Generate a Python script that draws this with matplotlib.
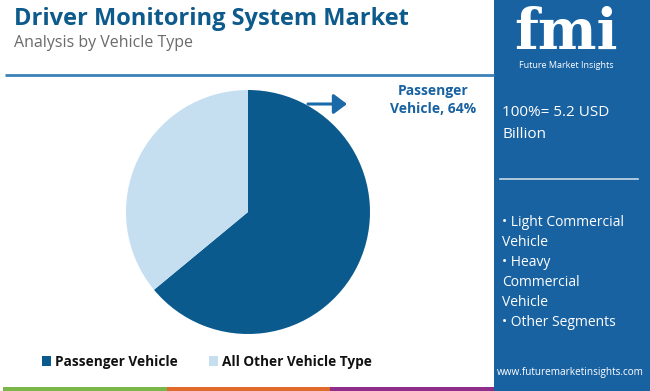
import matplotlib.pyplot as plt
import matplotlib.patches as mpatches

# data
segments = ["Passenger Vehicle", "All Other Vehicle Type"]
shares = [64, 36]
colors = ["#0b5a8e", "#c5dff1"]
title = "Driver Monitoring System Market"
subtitle = "Analysis by Vehicle Type"
other_segments = ["• Light Commercial", "Vehicle", "• Heavy", "Commercial", "Vehicle", "• Other Segments"]
stripe_colors = ["#7ab648", "#e06a2c", "#8e2d8a"]

W, H = 650, 391
fig = plt.figure(figsize=(W / 100, H / 100), dpi=100)
fig.patch.set_facecolor("white")

# pie (drawn first, underneath the overlay)
cx, cy, r = 248, 212, 122
pax = fig.add_axes([(cx - r) / W, (H - cy - r) / H, 2 * r / W, 2 * r / H])
pax.pie(shares, colors=colors, startangle=90, counterclock=False,
        wedgeprops=dict(linewidth=0))
pax.set_xlim(-1, 1)
pax.set_ylim(-1, 1)
pax.set_aspect("equal")

# overlay axes in pixel coordinates
bg = fig.add_axes([0, 0, 1, 1])
bg.set_zorder(2)
bg.patch.set_alpha(0)
bg.set_xlim(0, W)
bg.set_ylim(H, 0)
bg.axis("off")

FONT = "Open Sans"

bg.text(14, 19, title, fontsize=17, fontweight="bold", color="#0d5a8c",
        family=FONT, va="center", ha="left")
bg.text(14, 43, subtitle, fontsize=11.5, color="#6b6b6b", family=FONT,
        va="center", ha="left")
bg.plot([5, 494], [75, 75], color="#3b82b8", lw=2, solid_capstyle="butt")

# bottom stripes
xs = [3, 167, 330, 494]
for i, c in enumerate(stripe_colors):
    bg.add_patch(mpatches.Rectangle((xs[i], 387), xs[i + 1] - xs[i], 4, color=c, lw=0))

# right panel
bg.add_patch(mpatches.Rectangle((494, 0), W - 494, H, color="#1862a2", lw=0))
bg.text(566, 33, "fmi", fontsize=40, fontweight="bold", color="white",
        family="DejaVu Serif", ha="center", va="center")
bg.text(566, 66, "Future Market Insights", fontsize=6.5, color="white",
        family=FONT, ha="center", va="center")
bg.text(502, 112, "100%= 5.2 USD", fontsize=11, color="white", family=FONT,
        ha="left", va="center")
bg.text(502, 134, "Billion", fontsize=11, color="white", family=FONT,
        ha="left", va="center")
bg.plot([500, 638], [179, 179], color="#c9d9ea", lw=1.2)
for i, s in enumerate(other_segments):
    bg.text(502, 222 + i * 20, s, fontsize=10, color="white", family=FONT,
            ha="left", va="center")
bg.text(570, 372, "www.futuremarketinsights.com", fontsize=7.2, color="white",
        family=FONT, ha="center", va="center")

# annotation arrow
bg.annotate("", xy=(347, 104), xytext=(308, 104),
            arrowprops=dict(arrowstyle="-|>,head_length=0.8,head_width=0.6",
                            color="#1a6aa8", lw=2.2, shrinkA=0, shrinkB=0))
bg.text(433, 91, "Passenger", fontsize=10, fontweight="bold", color="#1862a2",
        family=FONT, ha="center", va="center")
bg.text(433, 109, "Vehicle, 64%", fontsize=10, fontweight="bold", color="#1862a2",
        family=FONT, ha="center", va="center")

# legend
lx = [42, 209]
for x, c, s in zip(lx, colors, segments):
    bg.add_patch(mpatches.Rectangle((x, 356), 9, 10, color=c, lw=0))
    bg.text(x + 13, 362, s, fontsize=9.8, fontweight="bold", color="#111111",
            family=FONT, ha="left", va="center")

fig.savefig("out.png", dpi=100, facecolor="white")
